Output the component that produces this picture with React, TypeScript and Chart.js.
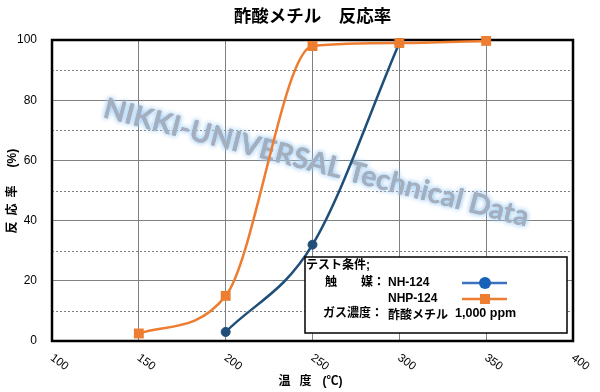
import React, { useEffect, useRef } from 'react';
import { Chart, registerables } from 'chart.js';

Chart.register(...registerables);

const titleText = '酢酸メチル　反応率';
const yTitleParts = ['反', '応', '率', '(%)'];
const xTitleParts = ['温', '度', '(℃)'];
const watermarkText = 'NIKKI-UNIVERSAL Technical Data';

const nh124Temps = [200, 250, 300];
const nh124Values = [3, 32, 99];
const nhp124Temps = [150, 200, 250, 300, 350];
const nhp124Values = [2.5, 15, 98, 99, 99.7];

const xTickValues = [100, 150, 200, 250, 300, 350, 400];
const yMinorValues = [10, 30, 50, 70, 90];

const legendHeader = 'テスト条件;';
const legendCatalystLabel = '触　　媒：';
const legendSeries1 = 'NH-124';
const legendSeries2 = 'NHP-124';
const legendGasLabel = 'ガス濃度：';
const legendGasName = '酢酸メチル';
const legendGasConc = '1,000 ppm';

const BLUE = '#1F4E79';
const ORANGE = '#ED7D31';
const GRID = '#808080';
const LATIN_JP = "'Liberation Sans', 'Noto Sans CJK JP', sans-serif";
const JP = "'Noto Sans CJK JP', sans-serif";

const decorPlugin = {
  id: 'decor',
  beforeDatasetsDraw(chart: any) {
    const { ctx, chartArea: a, scales } = chart;
    const y = scales.y;
    ctx.save();
    // minor dotted gridlines
    ctx.strokeStyle = GRID;
    ctx.lineWidth = 1;
    ctx.setLineDash([2, 2]);
    for (const v of yMinorValues) {
      const py = Math.round(y.getPixelForValue(v)) + 0.5;
      ctx.beginPath();
      ctx.moveTo(a.left, py);
      ctx.lineTo(a.right, py);
      ctx.stroke();
    }
    ctx.setLineDash([]);

    // watermark
    ctx.save();
    ctx.translate(a.left + 50, a.top + 77);
    ctx.rotate(Math.atan2(110, 425));
    ctx.font = 'bold 24px Lato';
    const w = ctx.measureText(watermarkText).width;
    const fs = (24 * 438) / w;
    ctx.font = `bold ${fs}px Lato`;
    ctx.textBaseline = 'alphabetic';
    ctx.shadowColor = 'rgba(160,205,245,0.95)';
    ctx.shadowBlur = 5;
    ctx.fillStyle = '#A4AEBC';
    ctx.fillText(watermarkText, 0, 0);
    ctx.fillText(watermarkText, 0, 0);
    ctx.restore();

    // plot border
    ctx.strokeStyle = '#000';
    ctx.lineWidth = 2.5;
    ctx.strokeRect(a.left, a.top, a.right - a.left, a.bottom - a.top);
    ctx.restore();
  },
  afterDatasetsDraw(chart: any) {
    const { ctx } = chart;
    ctx.save();
    const bx = 305, by = 257, bw = 262, bh = 76;
    ctx.fillStyle = '#fff';
    ctx.fillRect(bx, by, bw, bh);
    ctx.strokeStyle = '#000';
    ctx.lineWidth = 1.5;
    ctx.strokeRect(bx, by, bw, bh);

    ctx.fillStyle = '#000';
    ctx.textBaseline = 'middle';
    ctx.textAlign = 'left';
    ctx.font = `bold 12px ${LATIN_JP}`;
    ctx.fillText(legendHeader, bx + 1, by + 9);
    ctx.fillText(legendCatalystLabel, bx + 20, by + 26);
    ctx.fillText(legendSeries1, bx + 83, by + 26);
    ctx.fillText(legendSeries2, bx + 83, by + 42);
    ctx.fillText(legendGasLabel, bx + 18, by + 57);
    ctx.font = `bold 12px ${JP}`;
    ctx.fillText(legendGasName, bx + 83, by + 57);
    ctx.font = `bold 12.5px ${LATIN_JP}`;
    ctx.fillText(legendGasConc, bx + 150, by + 57);

    // legend samples
    const lx1 = bx + 157, lx2 = bx + 202, cx = bx + 180;
    ctx.lineWidth = 2.5;
    ctx.strokeStyle = '#3E70C0';
    ctx.beginPath();
    ctx.moveTo(lx1, by + 26);
    ctx.lineTo(lx2, by + 26);
    ctx.stroke();
    ctx.fillStyle = '#1762B8';
    ctx.beginPath();
    ctx.arc(cx, by + 26, 6, 0, Math.PI * 2);
    ctx.fill();

    ctx.strokeStyle = ORANGE;
    ctx.beginPath();
    ctx.moveTo(lx1, by + 42);
    ctx.lineTo(lx2, by + 42);
    ctx.stroke();
    ctx.fillStyle = ORANGE;
    ctx.fillRect(cx - 5, by + 37, 10, 10);
    ctx.restore();
  },
  afterDraw(chart: any) {
    const { ctx, chartArea: a, scales } = chart;
    const x = scales.x;
    ctx.save();
    ctx.fillStyle = '#000';
    // title
    ctx.font = `bold 17.5px ${JP}`;
    ctx.textAlign = 'center';
    ctx.textBaseline = 'middle';
    ctx.fillText(titleText, (a.left + a.right) / 2, 15);

    // x axis title (parts laid out left to right)
    ctx.textAlign = 'left';
    ctx.font = `bold 12px ${LATIN_JP}`;
    const xOffsets = [0, 21, 44];
    const xStart = (a.left + a.right) / 2 - 34;
    xTitleParts.forEach((p, i) => ctx.fillText(p, xStart + xOffsets[i], 382));

    // y axis title (rotated, reading bottom to top)
    ctx.save();
    ctx.translate(13, (a.top + a.bottom) / 2 + 43);
    ctx.rotate(-Math.PI / 2);
    const yOffsets = [0, 18, 36, 66];
    yTitleParts.forEach((p, i) => ctx.fillText(p, yOffsets[i], 0));
    ctx.restore();

    // rotated x tick labels
    ctx.font = `11.5px 'Liberation Sans', sans-serif`;
    ctx.textAlign = 'left';
    ctx.textBaseline = 'top';
    for (const v of xTickValues) {
      const px = x.getPixelForValue(v);
      ctx.save();
      ctx.translate(px + 3, a.bottom + 11);
      ctx.rotate((36 * Math.PI) / 180);
      ctx.fillText(String(v), 0, 0);
      ctx.restore();
    }
    ctx.restore();
  },
};

export default function App() {
  const ref = useRef<HTMLCanvasElement>(null);
  useEffect(() => {
    const chart = new Chart(ref.current as HTMLCanvasElement, {
      type: 'line',
      data: {
        datasets: [
          {
            label: legendSeries1,
            data: nh124Temps.map((t, i) => ({ x: t, y: nh124Values[i] })),
            borderColor: BLUE,
            backgroundColor: BLUE,
            borderWidth: 2.5,
            pointStyle: 'circle',
            pointRadius: 4.5,
            pointBorderWidth: 1,
            pointBackgroundColor: BLUE,
            pointBorderColor: BLUE,
            cubicInterpolationMode: 'monotone',
            clip: false as any,
            order: 2,
          },
          {
            label: legendSeries2,
            data: nhp124Temps.map((t, i) => ({ x: t, y: nhp124Values[i] })),
            borderColor: ORANGE,
            backgroundColor: ORANGE,
            borderWidth: 2.5,
            pointStyle: 'rect',
            pointRadius: 7,
            pointBorderWidth: 0,
            pointBackgroundColor: ORANGE,
            pointBorderColor: ORANGE,
            cubicInterpolationMode: 'monotone',
            clip: false as any,
            order: 1,
          },
        ],
      },
      options: {
        responsive: false,
        animation: false,
        layout: { padding: { left: 0, right: 27, top: 40, bottom: 0 } },
        plugins: {
          legend: { display: false },
          title: { display: false },
          tooltip: { enabled: false },
        },
        scales: {
          x: {
            type: 'linear',
            min: 100,
            max: 400,
            ticks: { stepSize: 50, callback: () => '' },
            grid: { color: GRID, lineWidth: 1, drawTicks: false },
            border: { display: false },
            afterFit: (s: any) => {
              s.height = 51;
            },
          },
          y: {
            min: 0,
            max: 100,
            ticks: {
              stepSize: 10,
              padding: 15,
              color: '#000',
              font: { family: "'Liberation Sans', sans-serif", size: 12 },
              callback: (v: any) => (Number(v) % 20 === 0 ? String(v) : ''),
            },
            grid: {
              drawTicks: false,
              lineWidth: 1,
              color: (c: any) =>
                c.tick && c.tick.value % 20 === 0 && c.tick.value > 0 && c.tick.value < 100
                  ? GRID
                  : 'rgba(0,0,0,0)',
            },
            border: { display: false },
            afterFit: (s: any) => {
              s.width = 52;
            },
          },
        },
      },
      plugins: [decorPlugin],
    } as any);
    return () => chart.destroy();
  }, []);
  return (
    <div style={{ position: 'absolute', left: 0, top: 0, width: 600, height: 392, background: '#fff' }}>
      <canvas ref={ref} width={600} height={392} style={{ display: 'block' }} />
    </div>
  );
}
